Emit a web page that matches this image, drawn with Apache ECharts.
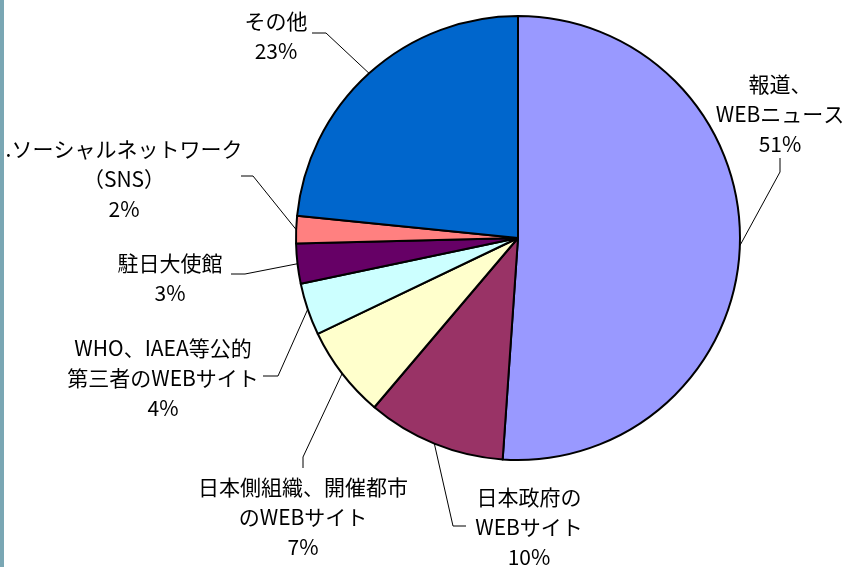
<!DOCTYPE html>
<html>
<head>
<meta charset="utf-8">
<script src="https://cdn.jsdelivr.net/npm/echarts@6/dist/echarts.min.js"></script>
<style>
  html, body { margin: 0; padding: 0; background: #fff; }
  #chart-container { width: 845px; height: 567px; }
</style>
</head>
<body>
<div id="chart-container"></div>
<script>
  var categories = [
    "報道、\nWEBニュース",
    "日本政府の\nWEBサイト",
    "日本側組織、開催都市\nのWEBサイト",
    "WHO、IAEA等公的\n第三者のWEBサイト",
    "駐日大使館",
    ".ソーシャルネットワーク\n（SNS）",
    "その他"
  ];
  var shares = [51.1, 10.1, 6.7, 3.8, 2.9, 2.0, 23.4];
  var colors = ["#9999FF", "#993366", "#FFFFCC", "#CCFFFF", "#660066", "#FF8080", "#0066CC"];

  // where each label sits: text centre, elbow of the leader line, end of the leader line
  var labelPlace = [
    { x: 780, y: 114, elbow: [780, 172], end: [780, 158] },
    { x: 529, y: 527, elbow: [453, 526], end: [466, 526] },
    { x: 303, y: 517, elbow: [303, 457], end: [303, 468] },
    { x: 163, y: 378, elbow: [278, 376], end: [263, 376] },
    { x: 170, y: 278, elbow: [245, 274], end: [231, 274] },
    { x: 124, y: 179, elbow: [253, 176], end: [241, 176] },
    { x: 276, y: 36,  elbow: [326, 33],  end: [312, 33] }
  ];

  var chart = echarts.init(document.getElementById('chart-container'));

  var pieData = categories.map(function (name, i) {
    return { name: name, value: shares[i], itemStyle: { color: colors[i] } };
  });

  var options = {
    backgroundColor: '#ffffff',
    animation: false,
    graphic: [{
      type: 'rect',
      shape: { x: 0, y: 0, width: 4, height: 567 },
      style: { fill: '#7aa7b4' }
    }],
    series: [{
      type: 'pie',
      center: [518, 238],
      radius: 222,
      startAngle: 90,
      clockwise: true,
      percentPrecision: 0,
      avoidLabelOverlap: false,
      data: pieData,
      itemStyle: { borderColor: '#000', borderWidth: 2 },
      emphasis: { disabled: true },
      label: {
        show: true,
        formatter: '{b}\n{d}%',
        fontFamily: '"Noto Sans CJK JP", sans-serif',
        fontSize: 21,
        lineHeight: 30,
        color: '#000',
        align: 'center'
      },
      labelLine: {
        show: true,
        length: 20,
        length2: 10,
        lineStyle: { color: '#000', width: 1 }
      },
      labelLayout: function (params) {
        var p = labelPlace[params.dataIndex];
        var start = params.labelLinePoints ? params.labelLinePoints[0] : p.elbow;
        return {
          x: p.x,
          y: p.y,
          align: 'center',
          verticalAlign: 'middle',
          labelLinePoints: [start, p.elbow, p.end]
        };
      }
    }]
  };

  chart.setOption(options);
</script>
</body>
</html>
